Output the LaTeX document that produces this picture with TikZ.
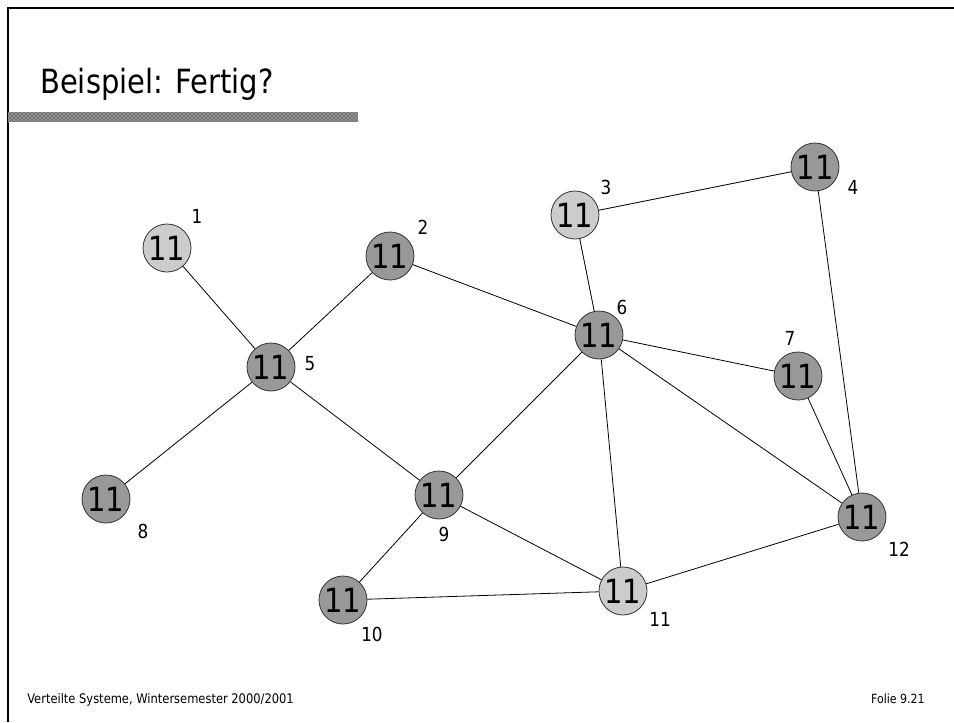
\documentclass[tikz,border=0pt]{standalone}
\usepackage{fontspec}
\setmainfont[FakeStretch=0.87]{DejaVu Sans}
\usetikzlibrary{patterns}
\definecolor{lightn}{HTML}{CCCCCC}
\definecolor{darkn}{HTML}{999999}
\begin{document}
\begin{tikzpicture}[x=0.75pt,y=-0.75pt,
  vert/.style={circle,draw=black!80,line width=0.6pt,minimum size=36pt,inner sep=0pt,font=\fontsize{25}{25}\selectfont},
  lt/.style={vert,fill=lightn},
  dk/.style={vert,fill=darkn},
  lbl/.style={font=\fontsize{14.5}{15}\selectfont,inner sep=0pt},
  edge/.style={line width=0.6pt,draw=black}]
\useasboundingbox (0,0) rectangle (954,722);
\fill[white] (0,0) rectangle (954,722);
% frame
\draw[line width=1.5pt] (8,722) -- (8,8) -- (954,8);
% title
\node[anchor=base west,inner sep=0pt,font=\fontsize{25}{25}\selectfont] (title) at (40,93) {Beispiel: Fertig?};
\fill[black!55] (8,112) rectangle (358,122);
\fill[pattern=crosshatch dots,pattern color=white] (8,112) rectangle (358,122);
% footer
\node[anchor=base west,inner sep=0pt,font=\fontsize{9.9}{10}\selectfont] (foot) at (27,703) {Verteilte Systeme, Wintersemester 2000/2001};
\node[anchor=base east,inner sep=0pt,font=\fontsize{9.5}{10}\selectfont] (folie) at (925,703) {Folie 9.21};
% nodes
\node[lt] (n1) at (167,248) {11};
\node[dk] (n2) at (390,256) {11};
\node[lt] (n3) at (575,215) {11};
\node[dk] (n4) at (815,167) {11};
\node[dk] (n5) at (271,367) {11};
\node[dk] (n6) at (599,335) {11};
\node[dk] (n7) at (798,376) {11};
\node[dk] (n8) at (106,499) {11};
\node[dk] (n9) at (439,495) {11};
\node[dk] (n10) at (343,600) {11};
\node[lt] (n11) at (623,591) {11};
\node[dk] (n12) at (862,517) {11};
% labels
\node[lbl] (l1) at (197,216) {1};
\node[lbl] (l2) at (423,227) {2};
\node[lbl] (l3) at (606,187) {3};
\node[lbl] (l4) at (853,187) {4};
\node[lbl] (l5) at (310,364) {5};
\node[lbl] (l6) at (622,307) {6};
\node[lbl] (l7) at (790,338) {7};
\node[lbl] (l8) at (143,531) {8};
\node[lbl] (l9) at (444,534) {9};
\node[lbl] (l10) at (372,634) {10};
\node[lbl] (l11) at (660,619) {11};
\node[lbl] (l12) at (899,549) {12};
% edges
\draw[edge] (n1) -- (n5);
\draw[edge] (n2) -- (n5);
\draw[edge] (n5) -- (n8);
\draw[edge] (n5) -- (n9);
\draw[edge] (n2) -- (n6);
\draw[edge] (n3) -- (n6);
\draw[edge] (n3) -- (n4);
\draw[edge] (n4) -- (n12);
\draw[edge] (n6) -- (n7);
\draw[edge] (n6) -- (n9);
\draw[edge] (n6) -- (n11);
\draw[edge] (n6) -- (n12);
\draw[edge] (n7) -- (n12);
\draw[edge] (n9) -- (n10);
\draw[edge] (n9) -- (n11);
\draw[edge] (n10) -- (n11);
\draw[edge] (n11) -- (n12);
\end{tikzpicture}
\end{document}
